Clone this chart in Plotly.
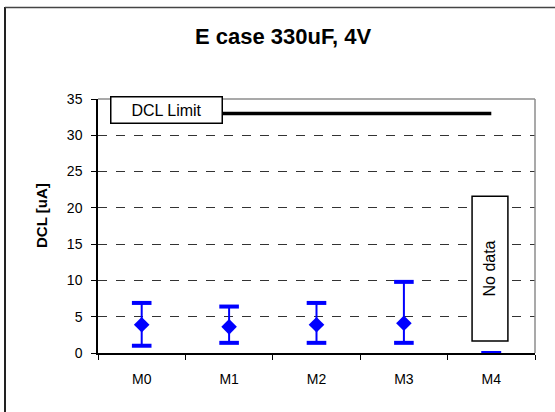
import plotly.graph_objects as go

categories = ["M0", "M1", "M2", "M3", "M4"]
dcl_mean = [3.9, 3.6, 3.9, 4.1, None]
dcl_low = [1.0, 1.4, 1.4, 1.4, 0.0]
dcl_high = [6.9, 6.4, 6.9, 9.8, 0.0]
dcl_limit = [33, 33, 33, 33, 33]
y_ticks = [0, 5, 10, 15, 20, 25, 30, 35]

FONT = "Arial, Liberation Sans, sans-serif"
BLUE = "#0000FF"

W, H = 555, 412
L, R, T, B = 98, 20, 99, 59
PW, PH = W - L - R, H - T - B


def px(x):
    return (x - L) / PW


def py(y):
    return (H - B - y) / PH


err_plus = [None if m is None else h - m for m, h in zip(dcl_mean, dcl_high)]
err_minus = [None if m is None else m - lo for m, lo in zip(dcl_mean, dcl_low)]

fig = go.Figure()

fig.add_trace(go.Scatter(
    x=categories, y=dcl_limit, mode="lines",
    line=dict(color="black", width=3.5), hoverinfo="skip", showlegend=False,
))

fig.add_trace(go.Scatter(
    x=categories, y=dcl_mean, mode="markers",
    marker=dict(symbol="diamond", size=12, color=BLUE),
    error_y=dict(type="data", symmetric=False, array=err_plus,
                 arrayminus=err_minus, color=BLUE, thickness=2, width=0),
    showlegend=False,
))

for vals in (dcl_low, dcl_high):
    fig.add_trace(go.Scatter(
        x=categories, y=vals, mode="markers",
        marker=dict(symbol="line-ew", size=14, color=BLUE,
                    line=dict(color=BLUE, width=4)),
        showlegend=False,
    ))

# "No data" box
fig.add_shape(type="rect", xref="x", yref="y", x0=3.78, x1=4.19, y0=1.65, y1=21.6,
              line=dict(color="black", width=1.5), fillcolor="white", layer="above")
fig.add_annotation(x=3.985, y=11.64, xref="x", yref="y", text="No data", textangle=-90,
                   xanchor="center", yanchor="middle",
                   showarrow=False, font=dict(family=FONT, size=16, color="black"))

# DCL Limit label box
fig.add_annotation(x=px(166), y=py(109.5), xref="paper", yref="paper", text="DCL Limit",
                   xanchor="center", yanchor="middle",
                   showarrow=False, font=dict(family=FONT, size=16, color="black"),
                   bgcolor="white", bordercolor="black", borderwidth=1.5, borderpad=2,
                   width=106, height=21)

# Title
fig.add_annotation(x=px(282.5), y=py(36), xref="paper", yref="paper",
                   xanchor="center", yanchor="middle",
                   text="<b>E case 330uF, 4V</b>", showarrow=False,
                   font=dict(family=FONT, size=22, color="black"))

# Y-axis title
fig.add_annotation(x=px(41), y=py(216), xref="paper", yref="paper",
                   xanchor="center", yanchor="middle",
                   text="<b>DCL [uA]</b>", textangle=-90, showarrow=False,
                   font=dict(family=FONT, size=15, color="black"))

# plot area top/right gray border
fig.add_shape(type="line", xref="paper", yref="paper", x0=0, x1=1, y0=1, y1=1,
              line=dict(color="#8c8c8c", width=1.5), layer="above")
fig.add_shape(type="line", xref="paper", yref="paper", x0=1, x1=1, y0=0, y1=1,
              line=dict(color="#8c8c8c", width=1.5), layer="above")

# outer frame (left and top edges)
fig.add_shape(type="line", xref="paper", yref="paper", x0=px(5), x1=px(5),
              y0=py(412), y1=py(7), line=dict(color="#222222", width=2))
fig.add_shape(type="line", xref="paper", yref="paper", x0=px(5), x1=px(555),
              y0=py(7.5), y1=py(7.5), line=dict(color="#444444", width=1.5))

fig.update_xaxes(
    type="category", range=[-0.5, 4.5], showline=True, linecolor="black", linewidth=1.5,
    ticks="outside", tickson="boundaries", ticklen=5, tickcolor="black",
    ticklabelstandoff=12,
    tickfont=dict(family=FONT, size=14, color="black"), showgrid=False, zeroline=False,
)
fig.update_yaxes(
    range=[0, 35], tickvals=y_ticks, showline=True, linecolor="black", linewidth=1.5,
    ticks="outside", ticklen=5, tickcolor="black", ticklabelstandoff=6,
    tickfont=dict(family=FONT, size=14, color="black"),
    showgrid=True, gridcolor="#333333", gridwidth=1, griddash="dash", zeroline=False,
)

fig.update_layout(
    width=W, height=H, margin=dict(l=L, r=R, t=T, b=B),
    paper_bgcolor="white", plot_bgcolor="white", showlegend=False,
)

fig.write_html("out.html", config={"displayModeBar": False},
               post_script="document.body.style.margin='0';")
